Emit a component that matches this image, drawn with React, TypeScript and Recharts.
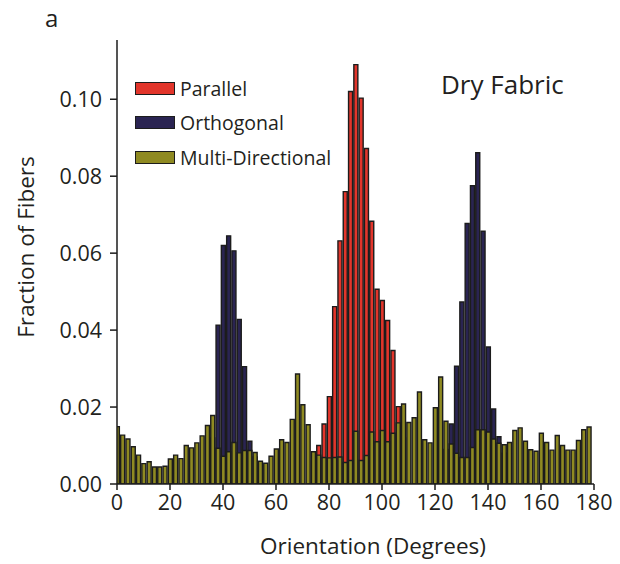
import React from "react";
import { BarChart, Bar, XAxis, YAxis, Legend } from "recharts";

// bin centres (degrees), 2 degree bins
const angles = [
  0, 2, 4, 6, 8, 10, 12, 14, 16, 18, 20, 22, 24, 26, 28, 30, 32, 34, 36, 38,
  40, 42, 44, 46, 48, 50, 52, 54, 56, 58, 60, 62, 64, 66, 68, 70, 72, 74, 76, 78,
  80, 82, 84, 86, 88, 90, 92, 94, 96, 98, 100, 102, 104, 106, 108, 110, 112, 114,
  116, 118, 120, 122, 124, 126, 128, 130, 132, 134, 136, 138, 140, 142, 144, 146,
  148, 150, 152, 154, 156, 158, 160, 162, 164, 166, 168, 170, 172, 174, 176, 178,
];

const multiDirectional = [
  0.0149, 0.0127, 0.0117, 0.0097, 0.0075, 0.0053, 0.0058, 0.0044, 0.0044, 0.0046,
  0.0065, 0.0075, 0.0066, 0.01, 0.0094, 0.0107, 0.0125, 0.0152, 0.0178, 0.0093,
  0.0072, 0.0084, 0.0108, 0.0081, 0.0087, 0.0087, 0.0082, 0.0059, 0.0054, 0.0072,
  0.0091, 0.0115, 0.0108, 0.0168, 0.0286, 0.0206, 0.0154, 0.0084, 0.0075, 0.0069,
  0.0068, 0.0069, 0.007, 0.0056, 0.0061, 0.0137, 0.0061, 0.0074, 0.0135, 0.011,
  0.0139, 0.011, 0.0132, 0.0159, 0.0208, 0.016, 0.0172, 0.0239, 0.0115, 0.0107,
  0.0198, 0.0278, 0.0163, 0.0104, 0.008, 0.0069, 0.0069, 0.0095, 0.0141, 0.0141,
  0.0135, 0.0117, 0.0106, 0.0102, 0.0108, 0.0139, 0.0146, 0.0111, 0.0089, 0.0085,
  0.0132, 0.0108, 0.0088, 0.0126, 0.01, 0.0088, 0.0088, 0.0113, 0.0141, 0.0148,
];

const parallel = [
  0, 0, 0, 0, 0, 0, 0, 0, 0, 0, 0, 0, 0, 0, 0, 0, 0, 0, 0, 0,
  0, 0, 0, 0, 0, 0, 0, 0, 0, 0, 0, 0, 0, 0, 0, 0, 0, 0.006, 0.01, 0.0156,
  0.0227, 0.0461, 0.0632, 0.076, 0.102, 0.109, 0.1003, 0.0872, 0.0683, 0.0506,
  0.0477, 0.0425, 0.0347, 0.0201, 0.012, 0, 0, 0, 0, 0,
  0, 0, 0, 0, 0, 0, 0, 0, 0, 0, 0, 0, 0, 0, 0, 0, 0, 0, 0, 0,
  0, 0, 0, 0, 0, 0, 0, 0, 0, 0,
];

const orthogonal = [
  0, 0, 0, 0, 0, 0, 0, 0, 0, 0, 0, 0, 0, 0, 0, 0, 0, 0, 0.012, 0.0413,
  0.062, 0.0645, 0.0606, 0.0428, 0.0305, 0.0111, 0.007, 0, 0, 0,
  0, 0, 0, 0, 0, 0, 0, 0, 0, 0, 0, 0, 0, 0, 0, 0, 0, 0, 0, 0,
  0, 0, 0, 0, 0, 0, 0, 0, 0, 0, 0, 0, 0.009, 0.0156, 0.0306, 0.0473, 0.0677, 0.0775,
  0.0861, 0.0657, 0.0356, 0.0195, 0.0123, 0.008, 0, 0, 0, 0,
  0, 0, 0, 0, 0, 0, 0, 0, 0, 0, 0, 0,
];

const xTicks = [0, 20, 40, 60, 80, 100, 120, 140, 160, 180];
const yTicks = [0, 0.02, 0.04, 0.06, 0.08, 0.1];

const series = [
  { key: "parallel", name: "Parallel", color: "#e2352b" },
  { key: "orthogonal", name: "Orthogonal", color: "#2a2452" },
  { key: "multiDirectional", name: "Multi-Directional", color: "#8f8a22" },
];

const rows = angles.map((angle, i) => ({
  angle,
  parallel: parallel[i],
  orthogonal: orthogonal[i],
  multiDirectional: multiDirectional[i],
}));

const FONT = "'Open Sans', 'Noto Sans', sans-serif";
const INK = "#231f20";
const EDGE = "#1c1c1c";

const renderLegend = () => (
  <div style={{ fontFamily: FONT, color: INK, fontSize: 19.5 }}>
    {series.map((s) => (
      <div
        key={s.key}
        style={{ display: "flex", alignItems: "center", height: 34.5 }}
      >
        <span
          style={{
            display: "inline-block",
            width: 38,
            height: 11,
            background: s.color,
            border: `1.5px solid ${EDGE}`,
            marginRight: 5,
          }}
        />
        <span>{s.name}</span>
      </div>
    ))}
  </div>
);

export default function App() {
  return (
    <div
      style={{
        position: "absolute",
        left: 0,
        top: 0,
        width: 620,
        height: 564,
        background: "#fff",
      }}
    >
      <BarChart
        width={620}
        height={564}
        data={rows}
        margin={{ top: 40, right: 26, bottom: 0, left: 0 }}
        barSize={4}
        barGap={-4}
      >
        <XAxis
          type="number"
          dataKey="angle"
          domain={[0, 180]}
          ticks={xTicks}
          interval={0}
          allowDataOverflow
          height={80}
          axisLine={{ stroke: EDGE, strokeWidth: 1.5 }}
          tickLine={{ stroke: EDGE, strokeWidth: 1.5 }}
          tickSize={6}
          tickMargin={5}
          tick={{ fill: INK, fontSize: 21.5, fontFamily: FONT }}
        />
        <YAxis
          type="number"
          domain={[0, 0.1154]}
          ticks={yTicks}
          interval={0}
          allowDataOverflow
          width={117}
          axisLine={{ stroke: EDGE, strokeWidth: 1.5 }}
          tickLine={{ stroke: EDGE, strokeWidth: 1.5 }}
          tickSize={7}
          tickMargin={8}
          tickFormatter={(v: number) => v.toFixed(2)}
          tick={{ fill: INK, fontSize: 21.5, fontFamily: FONT }}
        />
        <Legend
          layout="vertical"
          align="center"
          verticalAlign="middle"
          content={renderLegend}
          wrapperStyle={{ left: 135, top: 71, width: 240, height: 110 }}
        />
        {/* drawn back to front: orthogonal, parallel, multi-directional on top */}
        <Bar
          dataKey="orthogonal"
          name="Orthogonal"
          fill="#2a2452"
          stroke={EDGE}
          strokeWidth={1.4}
          isAnimationActive={false}
        />
        <Bar
          dataKey="parallel"
          name="Parallel"
          fill="#e2352b"
          stroke={EDGE}
          strokeWidth={1.4}
          isAnimationActive={false}
        />
        <Bar
          dataKey="multiDirectional"
          name="Multi-Directional"
          fill="#8f8a22"
          stroke={EDGE}
          strokeWidth={1.4}
          isAnimationActive={false}
        />
      </BarChart>

      <svg
        width={620}
        height={564}
        style={{ position: "absolute", left: 0, top: 0, pointerEvents: "none" }}
      >
        <text x={45} y={27} fontSize={24} fontFamily={FONT} fill={INK}>
          a
        </text>
        <text x={441} y={94} fontSize={26} fontFamily={FONT} fill={INK}>
          Dry Fabric
        </text>
        <text
          x={373}
          y={554}
          textAnchor="middle"
          fontSize={22.5}
          fontFamily={FONT}
          fill={INK}
        >
          Orientation (Degrees)
        </text>
        <text
          x={34}
          y={247}
          textAnchor="middle"
          fontSize={22.5}
          fontFamily={FONT}
          fill={INK}
          transform="rotate(-90 34 247)"
        >
          Fraction of Fibers
        </text>
      </svg>
    </div>
  );
}
